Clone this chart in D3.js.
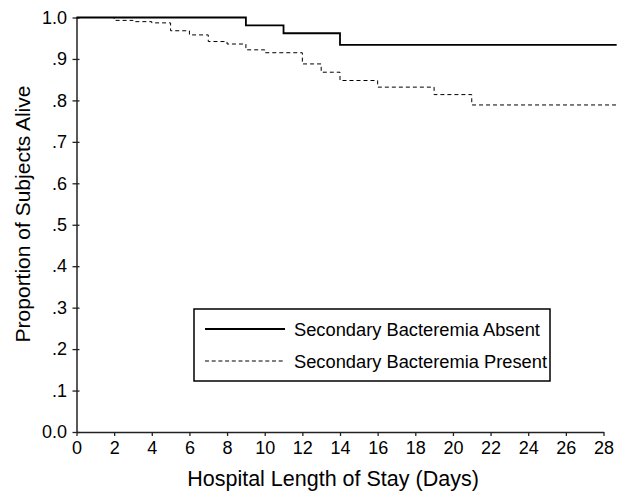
<!DOCTYPE html>
<meta charset="utf-8">
<script src="https://d3js.org/d3.v7.min.js"></script>
<style>
  body { margin: 0; background: #fff; }
  text { font-family: "Liberation Sans", Arial, sans-serif; fill: #000; }
</style>
<div id="my_dataviz"></div>
<script>

// survival steps: [day, proportion]
var absentDays   = [0, 9, 11, 14, 28.7];
var absentValues = [1.0, 0.981, 0.962, 0.934, 0.934];

var presentDays   = [0, 2, 3, 4, 5, 6, 7, 8, 9, 10, 12, 13, 14, 16, 19, 21, 28.7];
var presentValues = [1.0, 0.993, 0.990, 0.987, 0.968, 0.958, 0.942, 0.936, 0.922, 0.915, 0.888, 0.868, 0.848, 0.832, 0.814, 0.789, 0.789];

var xTicks = d3.range(0, 29, 2);
var yTicks = [0, 0.1, 0.2, 0.3, 0.4, 0.5, 0.6, 0.7, 0.8, 0.9, 1.0];
var yTickLabels = ["0.0", ".1", ".2", ".3", ".4", ".5", ".6", ".7", ".8", ".9", "1.0"];

var legendNames = ["Secondary Bacteremia Absent", "Secondary Bacteremia Present"];

// dimensions
var margin = {top: 17.5, right: 14.5, bottom: 61, left: 76.5},
    width = 618 - margin.left - margin.right,
    height = 493 - margin.top - margin.bottom;

var svg = d3.select("#my_dataviz")
  .append("svg")
    .attr("width", 618)
    .attr("height", 493)
  .append("g")
    .attr("transform", "translate(" + margin.left + "," + margin.top + ")");

var x = d3.scaleLinear().domain([0, 28]).range([0, 527]);
var y = d3.scaleLinear().domain([0, 1]).range([height, 0]);

// X axis
var xAxis = svg.append("g")
  .attr("transform", "translate(0," + height + ")")
  .call(d3.axisBottom(x).tickValues(xTicks).tickSize(4).tickPadding(5).tickSizeOuter(0));
xAxis.selectAll("text").style("font-size", "18px");

// Y axis
var yAxis = svg.append("g")
  .call(d3.axisLeft(y).tickValues(yTicks).tickSize(4).tickPadding(5.5).tickSizeOuter(0)
    .tickFormat(function(d, i) { return yTickLabels[i]; }));
yAxis.selectAll("text").style("font-size", "18px");
yAxis.selectAll(".tick line").attr("x2", -4).attr("x1", 3);

svg.selectAll(".domain").attr("stroke", "#222").attr("stroke-width", 1.5);
svg.selectAll(".tick line").attr("stroke", "#222").attr("stroke-width", 1.3);

// step lines
var line = d3.line()
  .x(function(d) { return x(d[0]); })
  .y(function(d) { return y(d[1]); })
  .curve(d3.curveStepAfter);

svg.append("path")
  .datum(absentDays.map(function(d, i) { return [d, absentValues[i]]; }))
  .attr("fill", "none")
  .attr("stroke", "#000")
  .attr("stroke-width", 1.8)
  .attr("d", line);

svg.append("path")
  .datum(presentDays.map(function(d, i) { return [d, presentValues[i]]; }))
  .attr("fill", "none")
  .attr("stroke", "#000")
  .attr("stroke-width", 1)
  .attr("stroke-dasharray", "4,3")
  .attr("d", line);

// legend
var legend = svg.append("g")
  .attr("transform", "translate(" + (194 - margin.left) + "," + (309 - margin.top) + ")");

legend.append("rect")
  .attr("width", 356)
  .attr("height", 72)
  .attr("fill", "#fff")
  .attr("stroke", "#000")
  .attr("stroke-width", 1.5);

legendNames.forEach(function(name, i) {
  var ly = 20 + i * 32;
  legend.append("line")
    .attr("x1", 11).attr("x2", 91)
    .attr("y1", ly).attr("y2", ly)
    .attr("stroke", "#000")
    .attr("stroke-width", i === 0 ? 2 : 1)
    .attr("stroke-dasharray", i === 0 ? null : "4,2.7");
  legend.append("text")
    .attr("x", 100)
    .attr("y", ly + 6.5)
    .style("font-size", "18.3px")
    .text(name);
});

// axis titles
svg.append("text")
  .attr("x", 333 - margin.left)
  .attr("y", 486 - margin.top)
  .attr("text-anchor", "middle")
  .style("font-size", "21.5px")
  .text("Hospital Length of Stay (Days)");

svg.append("text")
  .attr("transform", "translate(" + (30 - margin.left) + "," + (214 - margin.top) + ") rotate(-90)")
  .attr("text-anchor", "middle")
  .style("font-size", "21px")
  .text("Proportion of Subjects Alive");

</script>
